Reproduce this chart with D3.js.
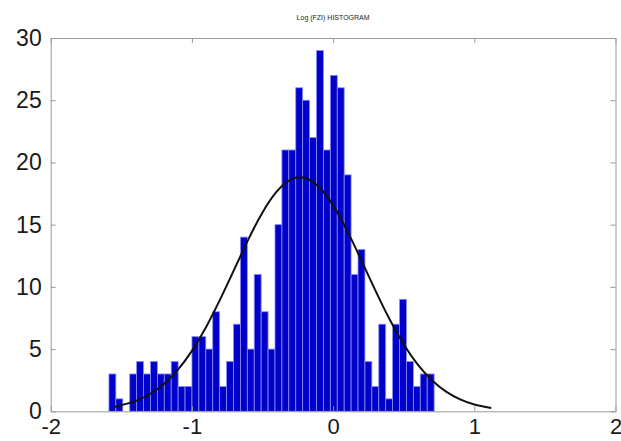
<!DOCTYPE html>
<html>
<head>
<meta charset="utf-8">
<script src="https://cdn.jsdelivr.net/npm/d3@7"></script>
<style>
  body { margin: 0; background: #fff; }
  svg { display: block; }
  .tick text { font-family: "Liberation Sans", Arial, sans-serif; }
</style>
</head>
<body>
<svg></svg>
<script>
// histogram bins: centre of each bin and the count in it
var binCenters = [-1.563, -1.514, -1.465, -1.416, -1.367, -1.318, -1.269, -1.220, -1.171, -1.122,
  -1.073, -1.024, -0.975, -0.926, -0.877, -0.828, -0.779, -0.730, -0.681, -0.632,
  -0.583, -0.534, -0.485, -0.436, -0.387, -0.338, -0.289, -0.240, -0.191, -0.142,
  -0.093, -0.044, 0.005, 0.054, 0.103, 0.152, 0.201, 0.250, 0.299, 0.348,
  0.397, 0.446, 0.495, 0.544, 0.593, 0.642, 0.691];
var counts = [3, 1, 0, 3, 4, 3, 4, 3, 3, 4,
  2, 2, 6, 6, 5, 8, 2, 4, 7, 14,
  5, 11, 8, 5, 15, 21, 21, 26, 25, 22,
  29, 21, 27, 26, 19, 11, 13, 4, 2, 7,
  1, 7, 9, 4, 2, 3, 3];
var binWidth = 0.049;

// fitted normal curve
var fitX = [-1.55, -1.4, -1.3, -1.2, -1.1, -1.0, -0.9, -0.8, -0.7, -0.6, -0.5, -0.4, -0.3, -0.2,
  -0.1, 0, 0.1, 0.2, 0.3, 0.4, 0.5, 0.6, 0.7, 0.8, 0.9, 1.0, 1.12];
var fitY = [0.35, 0.82, 1.37, 2.18, 3.33, 4.86, 6.76, 8.99, 11.4, 13.82, 15.98, 17.65, 18.62, 18.75,
  18.02, 16.55, 14.5, 12.14, 9.7, 7.4, 5.39, 3.75, 2.49, 1.58, 0.96, 0.55, 0.27];

var xTicks = [-2, -1, 0, 1, 2];
var yTicks = [0, 5, 10, 15, 20, 25, 30];
var title = "Log (FZI) HISTOGRAM";

var width = 621, height = 441;
var margin = {top: 38, right: 5.5, bottom: 29.7, left: 50.7};

var svg = d3.select("svg")
  .attr("width", width)
  .attr("height", height);

var x = d3.scaleLinear().domain([-2, 2]).range([margin.left, width - margin.right]);
var y = d3.scaleLinear().domain([0, 30]).range([height - margin.bottom, margin.top]);

// bars
svg.append("g")
  .selectAll("rect")
  .data(counts)
  .enter().append("rect")
  .attr("x", function(d, i) { return x(binCenters[i] - binWidth / 2); })
  .attr("width", function(d, i) { return x(binCenters[i] + binWidth / 2) - x(binCenters[i] - binWidth / 2); })
  .attr("y", function(d) { return y(d); })
  .attr("height", function(d) { return y(0) - y(d); })
  .attr("fill", "#0000c8")
  .attr("stroke", "#8c8cff")
  .attr("stroke-width", 0.8);

// fit line
var line = d3.line()
  .x(function(d, i) { return x(fitX[i]); })
  .y(function(d) { return y(d); })
  .curve(d3.curveNatural);

svg.append("path")
  .datum(fitY)
  .attr("d", line)
  .attr("fill", "none")
  .attr("stroke", "#111")
  .attr("stroke-width", 2);

// box + inward ticks
var axisColor = "#9a9a9a";
function styleAxis(g) {
  g.select(".domain").attr("stroke", axisColor);
  g.selectAll(".tick line").attr("stroke", axisColor);
}
// plain hyphen for negatives, like the original
var fmt = function(d) { return String(d); };

svg.append("g")
  .attr("transform", "translate(0," + y(0) + ")")
  .call(d3.axisBottom(x).tickValues(xTicks).tickSize(-5).tickSizeOuter(0).tickPadding(7).tickFormat(fmt))
  .call(styleAxis)
  .call(function(g) {
    g.selectAll("text").attr("font-size", 22).attr("fill", "#1a1a1a");
  });

svg.append("g")
  .attr("transform", "translate(0," + y(30) + ")")
  .call(d3.axisTop(x).tickValues(xTicks).tickSize(-5).tickSizeOuter(0).tickFormat(""))
  .call(styleAxis);

svg.append("g")
  .attr("transform", "translate(" + x(-2) + ",0)")
  .call(d3.axisLeft(y).tickValues(yTicks).tickSize(-5).tickSizeOuter(0).tickPadding(9).tickFormat(fmt))
  .call(styleAxis)
  .call(function(g) {
    g.selectAll("text").attr("font-size", 23).attr("fill", "#1a1a1a");
  });

svg.append("g")
  .attr("transform", "translate(" + x(2) + ",0)")
  .call(d3.axisRight(y).tickValues(yTicks).tickSize(-5).tickSizeOuter(0).tickFormat(""))
  .call(styleAxis);

// title
svg.append("text")
  .attr("x", (x(-2) + x(2)) / 2)
  .attr("y", 20)
  .attr("text-anchor", "middle")
  .attr("font-family", "Liberation Sans, Arial, sans-serif")
  .attr("font-size", 7)
  .attr("fill", "#222")
  .text(title);
</script>
</body>
</html>
